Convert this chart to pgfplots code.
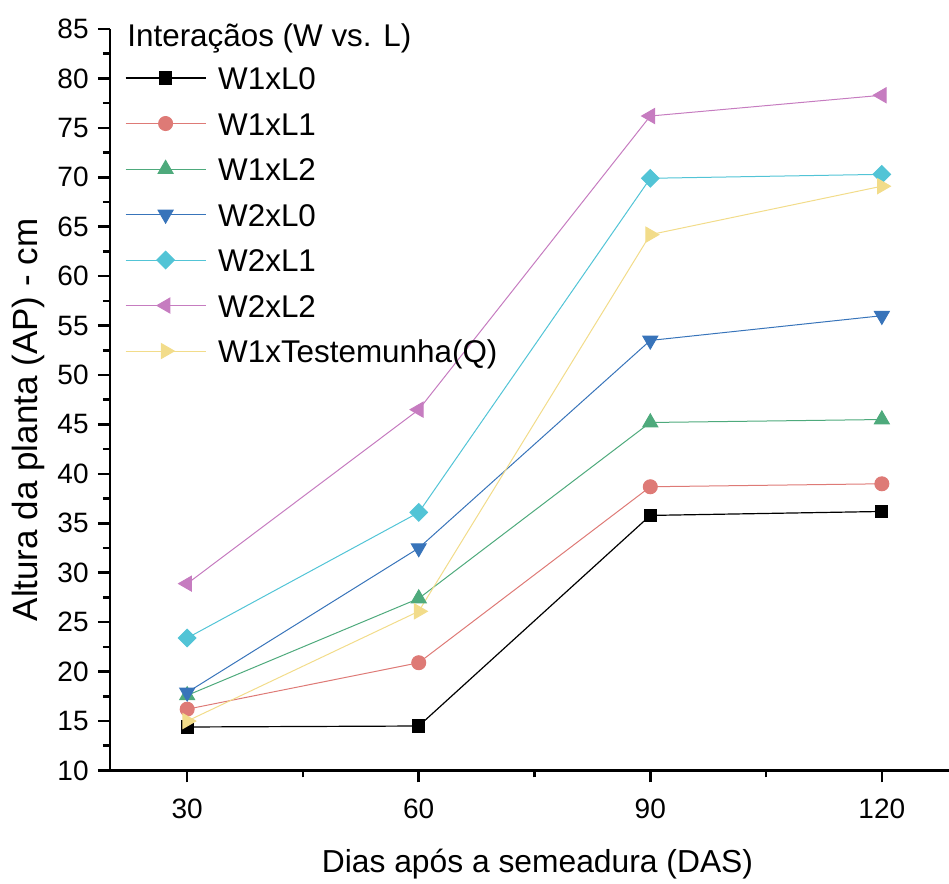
\documentclass[border=0pt]{standalone}
\usepackage{pgfplots}
\pgfplotsset{compat=1.18}
\usepackage{fontspec}
\setmainfont{Liberation Sans}
\usepackage{graphicx}
\definecolor{cA}{RGB}{0,0,0}
\definecolor{cB}{RGB}{222,122,118}
\definecolor{cC}{RGB}{78,170,124}
\definecolor{cD}{RGB}{56,116,186}
\definecolor{cE}{RGB}{82,196,214}
\definecolor{cF}{RGB}{198,124,192}
\definecolor{cG}{RGB}{242,220,138}
\begin{document}
\begin{tikzpicture}
\useasboundingbox (0,0) rectangle (474.5pt,442pt);
\begin{axis}[
  at={(55pt,56.75pt)}, anchor=south west,
  width=419.5pt, height=370.75pt, scale only axis,
  xmin=20, xmax=128.7, ymin=10, ymax=85,
  axis x line*=bottom, axis y line*=left,
  axis line style={-, line width=1.4pt, black},
  every tick/.style={black, line width=1.3pt},
  major tick length=6pt, minor tick length=3.5pt,
  tick align=outside,
  xtick={30,60,90,120}, minor xtick={45,75,105},
  ytick={10,15,...,85}, minor ytick={12.5,17.5,...,82.5},
  /pgf/number format/assume math mode=true,
  tick label style={font=\fontsize{14}{16}\selectfont},
  yticklabel style={anchor=east, inner sep=0pt, xshift=-4.5pt},
  xticklabel style={anchor=north, inner sep=0pt, yshift=-8pt},
  xlabel={Dias após a semeadura (DAS)},
  ylabel={Altura da planta (AP) - cm},
  xlabel style={font=\fontsize{15.9}{18}\selectfont, at={(axis description cs:0.5095,-0.1382)}, anchor=base, inner sep=0pt},
  ylabel style={font=\fontsize{17.5}{20}\selectfont, at={(axis description cs:-0.0870,0.4727)}, anchor=base, inner sep=0pt, rotate=0},
  legend style={at={(axis description cs:0.01788,0.9494)}, anchor=north west, draw=none, fill=none,
    inner sep=0pt, outer sep=0pt, row sep=11.25pt, column sep=6pt,
    font=\fontsize{15.7}{18}\selectfont,
    nodes={inner sep=0pt, text height=11.5pt, text depth=0pt}},
  legend cell align=left,
  legend image code/.code={\draw[mark repeat=2,mark phase=2,#1] plot coordinates {(0pt,0pt)(20pt,0pt)(40pt,0pt)};},
  clip=false,
]
\addplot[cA, line width=0.6pt, mark=square*, mark size=3pt, mark options={solid, fill=cA}]
  coordinates {(30,14.4)(60,14.5)(90,35.8)(120,36.2)};
\addlegendentry{W1xL0}
\addplot[cB, line width=0.5pt, mark=*, mark size=3.5pt, mark options={solid, fill=cB, draw=cB}]
  coordinates {(30,16.2)(60,20.9)(90,38.7)(120,39.0)};
\addlegendentry{W1xL1}
\addplot[cC, line width=0.5pt, mark=triangle*, mark size=4.3pt, mark options={solid, fill=cC, draw=cC}]
  coordinates {(30,17.6)(60,27.4)(90,45.2)(120,45.5)};
\addlegendentry{W1xL2}
\addplot[cD, line width=0.5pt, mark=triangle*, mark size=4.3pt, mark options={solid, fill=cD, draw=cD, rotate=180}]
  coordinates {(30,17.9)(60,32.5)(90,53.5)(120,56.0)};
\addlegendentry{W2xL0}
\addplot[cE, line width=0.5pt, mark=square*, mark size=3.1pt, mark options={solid, fill=cE, draw=cE, rotate=45}]
  coordinates {(30,23.4)(60,36.1)(90,69.9)(120,70.3)};
\addlegendentry{W2xL1}
\addplot[cF, line width=0.5pt, mark=triangle*, mark size=4.3pt, mark options={solid, fill=cF, draw=cF, rotate=90}]
  coordinates {(30,28.9)(60,46.5)(90,76.2)(120,78.3)};
\addlegendentry{W2xL2}
\addplot[cG, line width=0.5pt, mark=triangle*, mark size=4.3pt, mark options={solid, fill=cG, draw=cG, rotate=-90}]
  coordinates {(30,15.0)(60,26.1)(90,64.2)(120,69.1)};
\addlegendentry{W1xTestemunha(Q)}
\node[anchor=base west, font=\fontsize{15.7}{18}\selectfont, inner sep=0pt] at (axis description cs:0.02026,0.97707) {Interaçãos (W vs. L)};
\end{axis}
\end{tikzpicture}
\end{document}
